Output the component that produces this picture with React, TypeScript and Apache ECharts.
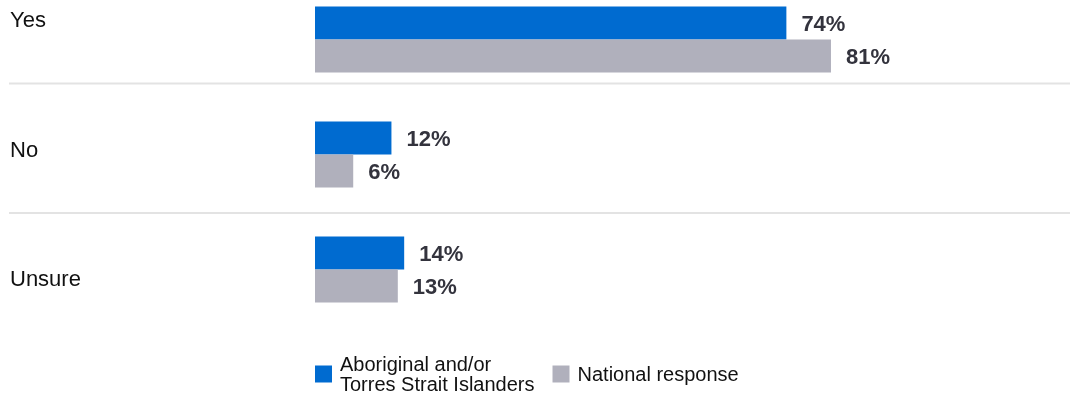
import React, { useEffect, useRef } from "react";
import * as echarts from "echarts";

const categories = ["Yes", "No", "Unsure"];
const seriesNames = ["Aboriginal and/or\nTorres Strait Islanders", "National response"];
const aboriginalValues = [74, 12, 14];
const nationalValues = [81, 6, 13];

const FONT = "'Liberation Sans', Arial, Helvetica, sans-serif";
const BLUE = "#006BD0";
const GRAY = "#B0B0BC";

export default function App() {
  const ref = useRef<HTMLDivElement>(null);
  useEffect(() => {
    if (!ref.current) return;
    const chart = echarts.init(ref.current, undefined, { renderer: "svg" });
    const labelYs = [20, 150, 279];
    const label = {
      show: true,
      position: "right",
      distance: 15,
      formatter: "{c}%",
      fontFamily: FONT,
      fontSize: 22,
      fontWeight: "bold",
      color: "#33333d",
    };
    chart.setOption({
      animation: false,
      textStyle: { fontFamily: FONT },
      grid: { left: 315, right: 118, top: -18, height: 345, containLabel: false, outerBoundsMode: "none" },
      xAxis: { type: "value", min: 0, max: 100, show: false },
      yAxis: { type: "category", data: categories, inverse: true, show: false },
      legend: {
        left: 315,
        top: 354,
        padding: 0,
        itemWidth: 17,
        itemHeight: 17,
        itemGap: 18,
        icon: "rect",
        textStyle: { fontFamily: FONT, fontSize: 20, lineHeight: 20, color: "#111", padding: [0, 0, 0, 3] },
        data: seriesNames,
      },
      series: [
        {
          name: seriesNames[0],
          type: "bar",
          data: aboriginalValues,
          barWidth: 33,
          barGap: "0%",
          itemStyle: { color: BLUE },
          label,
        },
        {
          name: seriesNames[1],
          type: "bar",
          data: nationalValues,
          barWidth: 33,
          barGap: "0%",
          itemStyle: { color: GRAY },
          label,
        },
      ],
      graphic: [
        ...categories.map((c, i) => ({
          type: "text",
          left: 10,
          top: labelYs[i] - 12,
          style: { text: c, fontFamily: FONT, fontSize: 22, fill: "#111" },
        })),
        { type: "line", shape: { x1: 9, y1: 83.5, x2: 1070, y2: 83.5 }, style: { stroke: "#e3e3e3", lineWidth: 2 } },
        { type: "line", shape: { x1: 9, y1: 213, x2: 1070, y2: 213 }, style: { stroke: "#e3e3e3", lineWidth: 2 } },
      ],
    });
    return () => chart.dispose();
  }, []);
  return <div ref={ref} style={{ position: "fixed", left: 0, top: 0, width: 1070, height: 396 }} />;
}
